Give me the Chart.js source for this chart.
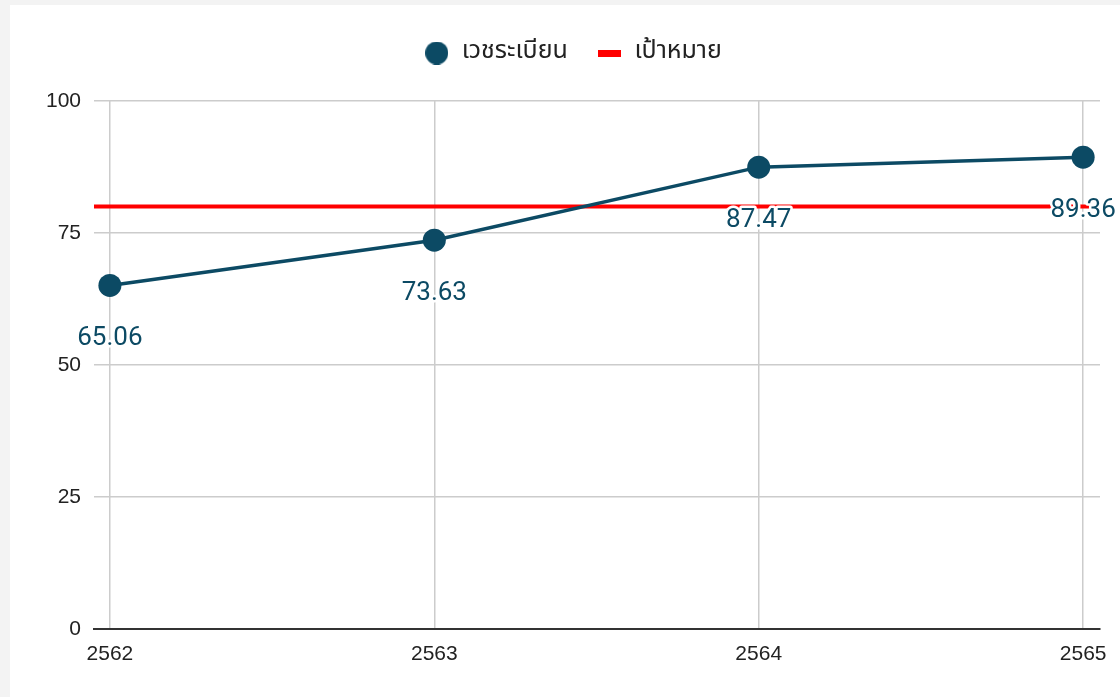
<!DOCTYPE html>
<html lang="th">
<head>
  <meta charset="UTF-8" />
  <title>เวชระเบียน</title>
  <style>
    body {
      margin: 0;
      background-color: #f3f3f3;
      overflow: hidden;
    }

    .frame {
      position: absolute;
      left: 10px;
      top: 5px;
      width: 1124px;
      height: 692px;
      background-color: #fff;
    }
  </style>
</head>
<body>
  <div class="frame">
    <canvas id="recordChart"></canvas>
  </div>

  <script src="https://cdn.jsdelivr.net/npm/chart.js@4"></script>
  <script>
    const years = [2562, 2563, 2564, 2565];
    const records = [65.06, 73.63, 87.47, 89.36];
    const target = 80;
    const yTicks = [0, 25, 50, 75, 100];
    const seriesNames = ["เวชระเบียน", "เป้าหมาย"];

    const BLUE = "#0c4a64";
    const RED = "#ff0000";
    // x range padded a little so the grid runs past the first and last year
    const X_MIN = 2561.951;
    const X_MAX = 2565.052;

    const makeMarker = (w, h, draw) => {
      const c = document.createElement("canvas");
      c.width = w;
      c.height = h;
      draw(c.getContext("2d"));
      return c;
    };

    const dotMarker = makeMarker(23, 23, (g) => {
      g.fillStyle = BLUE;
      g.beginPath();
      g.arc(11.5, 11.5, 11.5, 0, Math.PI * 2);
      g.fill();
    });
    const barMarker = makeMarker(23, 7, (g) => {
      g.fillStyle = RED;
      g.fillRect(0, 0, 23, 7);
    });

    // keep the legend block a fixed height so the plot starts where it should,
    // and nudge it right (the legend sits centred on the whole frame)
    const legendSpace = {
      id: "legendSpace",
      beforeInit(chart) {
        const fit = chart.legend.fit;
        chart.legend.fit = function () {
          fit.bind(chart.legend)();
          this.height = 89.5;
        };
      },
      afterLayout(chart) {
        chart.legend.left += 18;
        chart.legend.right += 18;
      }
    };

    const valueLabels = {
      id: "valueLabels",
      afterDatasetsDraw(chart) {
        const { ctx } = chart;
        const meta = chart.getDatasetMeta(0);
        ctx.save();
        ctx.font = "26px Roboto";
        ctx.textAlign = "center";
        ctx.textBaseline = "middle";
        ctx.lineJoin = "round";
        ctx.lineWidth = 5;
        ctx.strokeStyle = "#fff";
        ctx.fillStyle = BLUE;
        meta.data.forEach((pt, i) => {
          const txt = records[i].toFixed(2);
          ctx.strokeText(txt, pt.x, pt.y + 53);
          ctx.fillText(txt, pt.x, pt.y + 53);
        });
        ctx.restore();
      }
    };

    const ctx = document.getElementById("recordChart").getContext("2d");

    new Chart(ctx, {
      type: "line",
      data: {
        datasets: [
          {
            label: seriesNames[0],
            data: years.map((y, i) => ({ x: y, y: records[i] })),
            borderColor: BLUE,
            backgroundColor: BLUE,
            borderWidth: 3.5,
            pointRadius: 11.5,
            pointHoverRadius: 11.5,
            pointBorderWidth: 0,
            tension: 0
          },
          {
            label: seriesNames[1],
            data: [{ x: X_MIN, y: target }, { x: X_MAX, y: target }],
            borderColor: RED,
            backgroundColor: RED,
            borderWidth: 4,
            pointRadius: 0,
            tension: 0
          }
        ]
      },
      options: {
        responsive: true,
        maintainAspectRatio: false,
        animation: false,
        layout: {
          padding: { top: 6.5, right: 34, bottom: 0, left: 0 }
        },
        plugins: {
          tooltip: { enabled: false },
          legend: {
            position: "top",
            labels: {
              usePointStyle: true,
              pointStyleWidth: 25,
              boxHeight: 16,
              padding: 29,
              color: "#222",
              font: { family: "'Noto Sans Thai', 'Noto Sans', sans-serif", size: 25 },
              generateLabels: (chart) => {
                const items = Chart.defaults.plugins.legend.labels.generateLabels(chart);
                items.forEach((it, i) => {
                  it.pointStyle = i === 0 ? dotMarker : barMarker;
                });
                return items;
              }
            }
          }
        },
        scales: {
          x: {
            type: "linear",
            min: X_MIN,
            max: X_MAX,
            afterFit: (scale) => { scale.height = 68; },
            afterBuildTicks: (scale) => {
              scale.ticks = years.map((v) => ({ value: v }));
            },
            ticks: {
              padding: 13,
              color: "#222",
              font: { family: "'Liberation Sans', Arial, sans-serif", size: 21 },
              callback: (v) => String(v),
              maxRotation: 0
            },
            grid: {
              color: "#cccccc",
              lineWidth: 1.5,
              drawTicks: false
            },
            border: { display: true, color: "#333", width: 2 }
          },
          y: {
            min: 0,
            max: 100,
            afterFit: (scale) => { scale.width = 84; },
            afterBuildTicks: (scale) => {
              scale.ticks = yTicks.map((v) => ({ value: v }));
            },
            ticks: {
              padding: 13,
              color: "#222",
              font: { family: "'Liberation Sans', Arial, sans-serif", size: 21 }
            },
            grid: {
              color: "#cccccc",
              lineWidth: 1.5,
              drawTicks: false
            },
            border: { display: false }
          }
        }
      },
      plugins: [legendSpace, valueLabels]
    });
  </script>
</body>
</html>
